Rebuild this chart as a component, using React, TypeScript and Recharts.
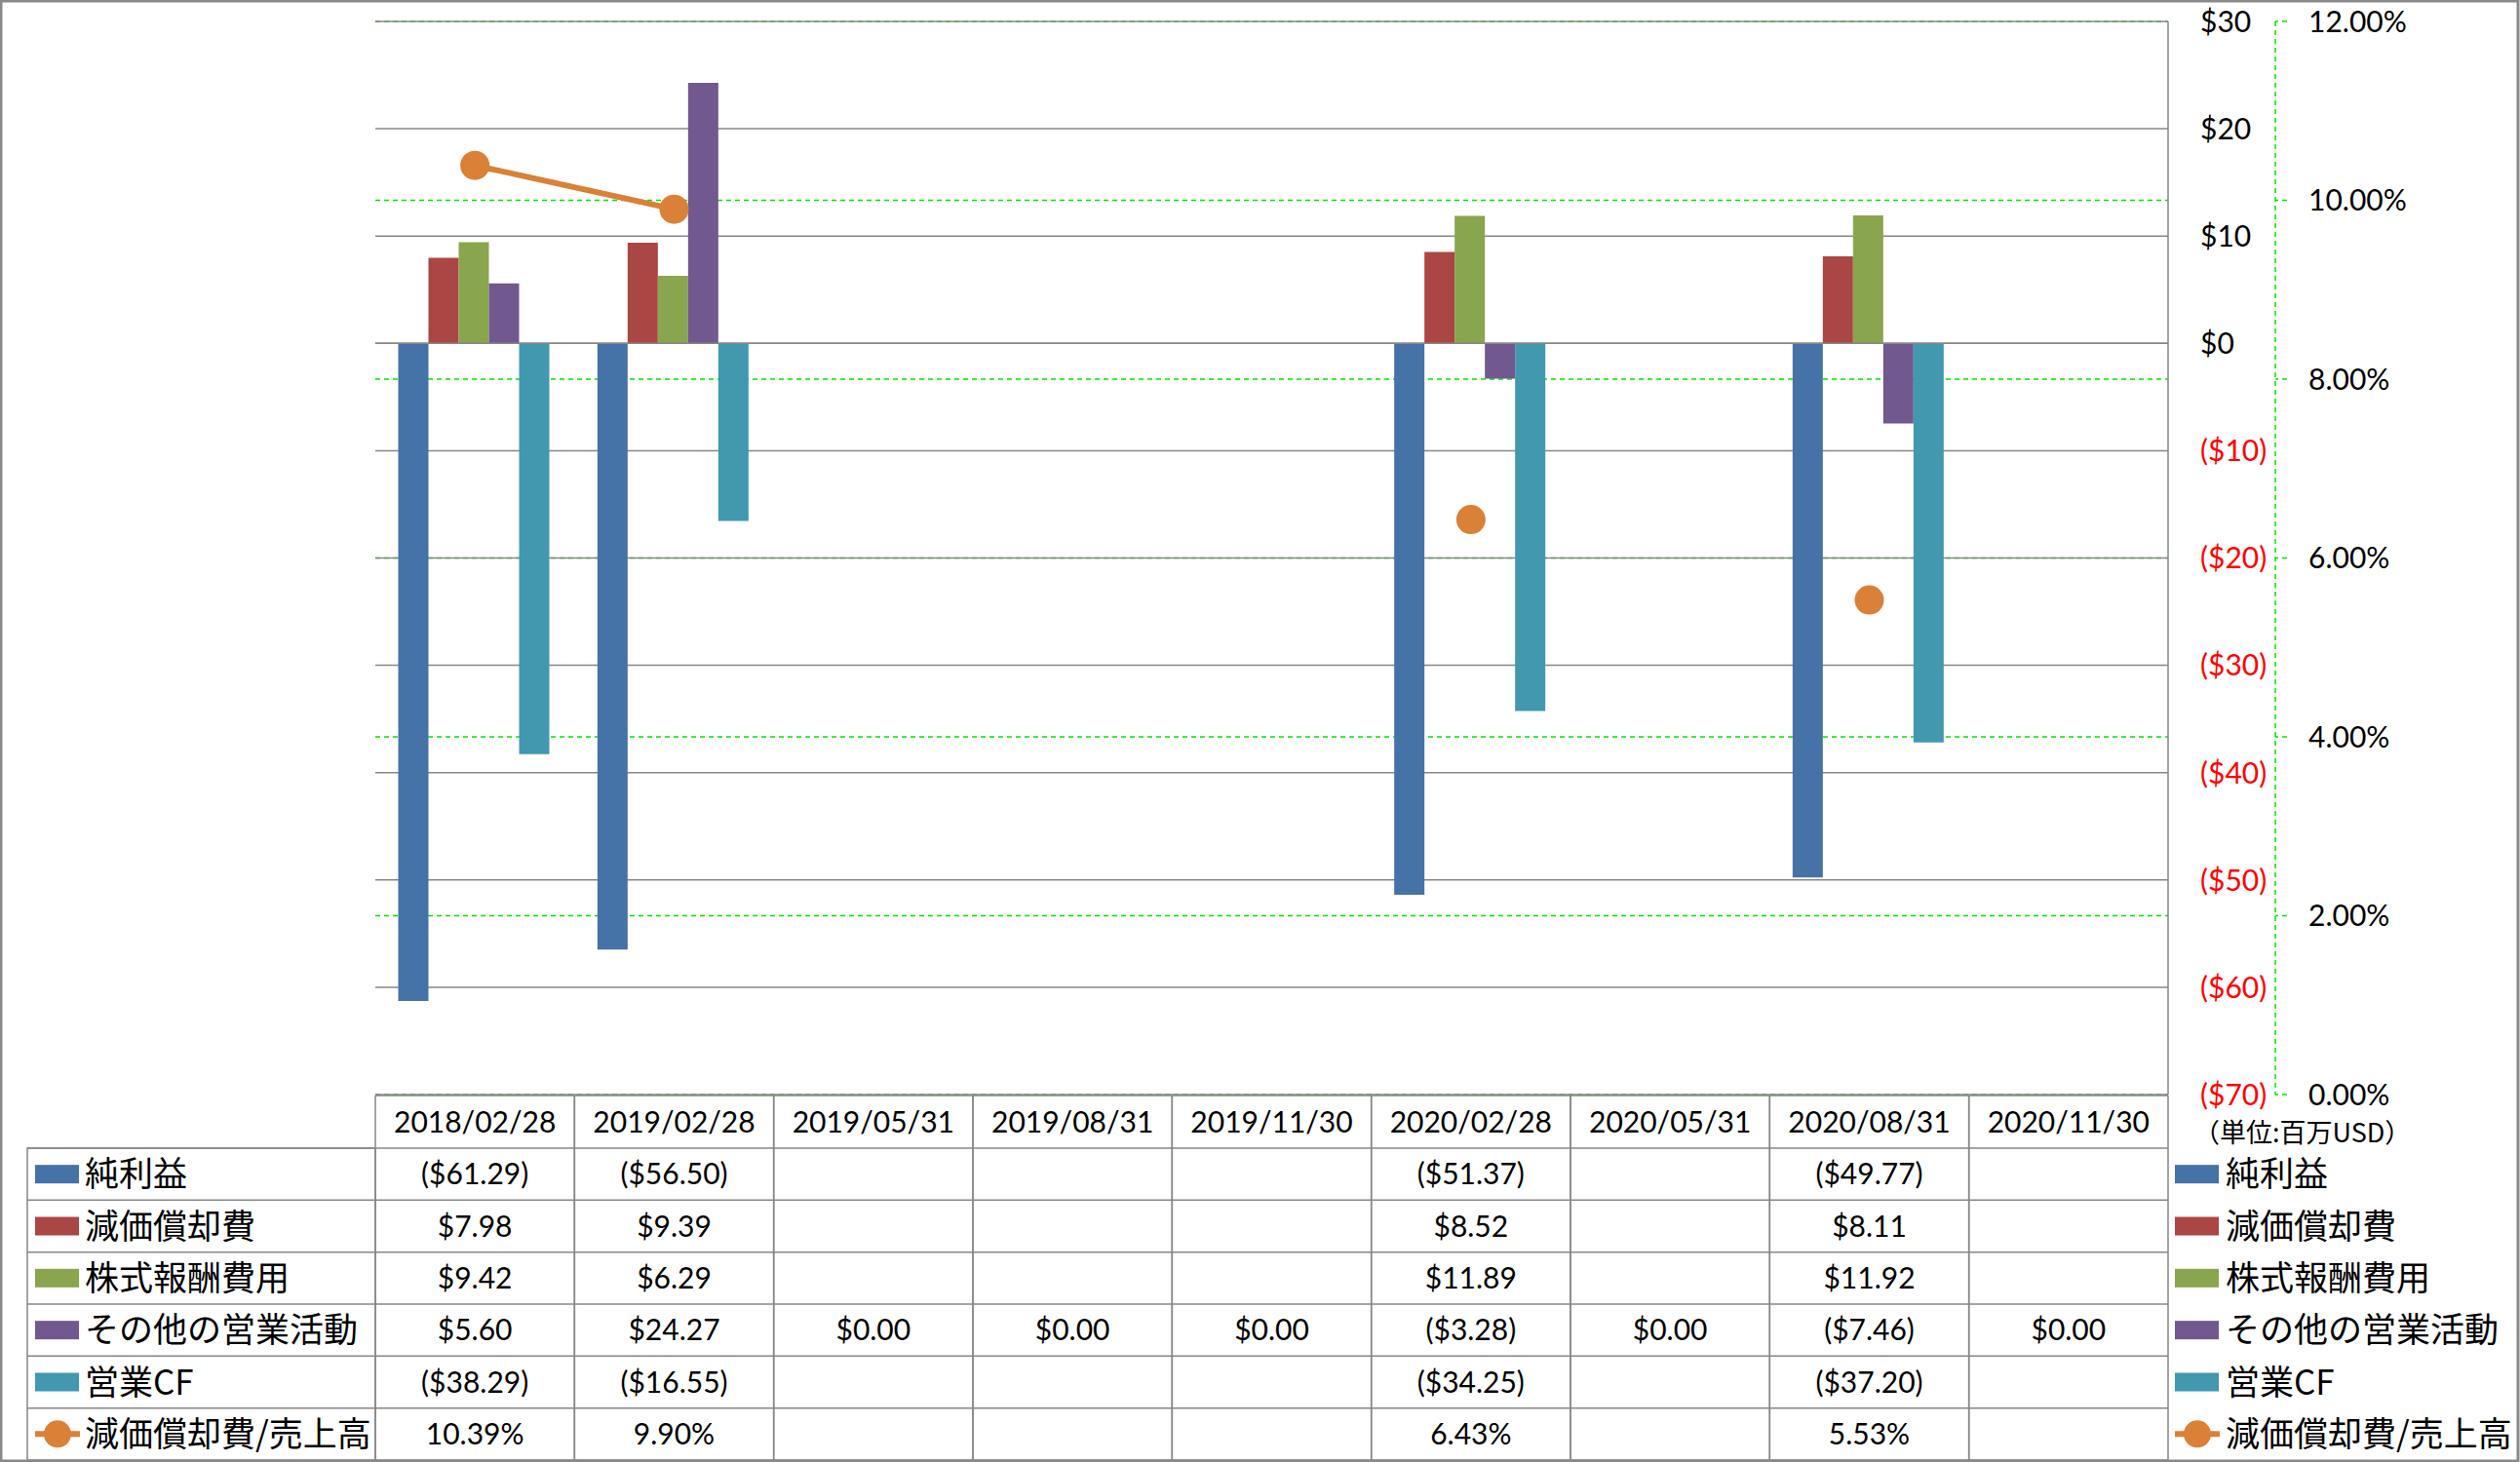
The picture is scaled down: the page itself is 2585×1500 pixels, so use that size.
import React from 'react';
import { ComposedChart, Bar, Line, XAxis, YAxis, CartesianGrid, ReferenceLine } from 'recharts';

const categories = ['2018/02/28', '2019/02/28', '2019/05/31', '2019/08/31', '2019/11/30', '2020/02/28', '2020/05/31', '2020/08/31', '2020/11/30'];
const netIncome = [-61.29, -56.5, null, null, null, -51.37, null, -49.77, null];
const depreciation = [7.98, 9.39, null, null, null, 8.52, null, 8.11, null];
const stockComp = [9.42, 6.29, null, null, null, 11.89, null, 11.92, null];
const otherOps = [5.6, 24.27, 0, 0, 0, -3.28, 0, -7.46, 0];
const operatingCF = [-38.29, -16.55, null, null, null, -34.25, null, -37.2, null];
const depRatio = [10.39, 9.9, null, null, null, 6.43, null, 5.53, null];

const usdTicks = [-70, -60, -50, -40, -30, -20, -10, 0, 10, 20, 30];
const pctTicks = [0, 2, 4, 6, 8, 10, 12];

const seriesNames = ['純利益', '減価償却費', '株式報酬費用', 'その他の営業活動', '営業CF', '減価償却費/売上高'];
const seriesColors = ['#4572A7', '#AA4643', '#89A54E', '#71588F', '#4198AF', '#DA8137'];

const data = categories.map((date, i) => ({
  date,
  netIncome: netIncome[i],
  depreciation: depreciation[i],
  stockComp: stockComp[i],
  otherOps: otherOps[i],
  operatingCF: operatingCF[i],
  depRatio: depRatio[i],
}));

// layout of the excel-like sheet
const W = 2585;
const H = 1500;
const PLOT_LEFT = 385;
const PLOT_RIGHT = 2224;
const PLOT_TOP = 22;
const PLOT_BOTTOM = 1123;
const COL_W = (PLOT_RIGHT - PLOT_LEFT) / categories.length;
const TABLE_TOP = 1124;
const HEADER_BOTTOM = 1178;
const TABLE_BOTTOM = 1498;
const ROW_H = (TABLE_BOTTOM - HEADER_BOTTOM) / 6;
const GRID = '#878787';
const LATIN = 'Lato, "Noto Sans", sans-serif';
const CJK = '"Noto Sans CJK JP", sans-serif';

const money = (v: number | null) => {
  if (v === null) return '';
  const s = '$' + Math.abs(v).toFixed(2);
  return v < 0 ? `(${s})` : s;
};
const pct = (v: number | null) => (v === null ? '' : v.toFixed(2) + '%');

const tableRows = [
  { values: netIncome, fmt: money },
  { values: depreciation, fmt: money },
  { values: stockComp, fmt: money },
  { values: otherOps, fmt: money },
  { values: operatingCF, fmt: money },
  { values: depRatio, fmt: pct },
];

const UsdTick = (props: any) => {
  const { x, y, payload } = props;
  const v = payload.value;
  const label = v < 0 ? `($${Math.abs(v)})` : `$${v}`;
  return (
    <text x={x} y={y} dy="0.36em" textAnchor="start" fill={v < 0 ? '#FF0000' : '#000'} fontFamily={LATIN} fontSize={30}>
      {label}
    </text>
  );
};

const PctTick = (props: any) => {
  const { x, y, payload } = props;
  return (
    <text x={x} y={y} dy="0.36em" textAnchor="start" fill="#000" fontFamily={LATIN} fontSize={30}>
      {payload.value.toFixed(2)}%
    </text>
  );
};

// each x tick draws one column of the data table
const TableColumn = (props: any) => {
  const { x, payload } = props;
  const i = categories.indexOf(payload.value);
  const left = x - COL_W / 2;
  const right = x + COL_W / 2;
  return (
    <g>
      <line x1={left} x2={right} y1={TABLE_TOP} y2={TABLE_TOP} stroke={GRID} strokeWidth={1.5} />
      <line x1={left} x2={left} y1={TABLE_TOP} y2={TABLE_BOTTOM} stroke={GRID} strokeWidth={1.5} />
      <line x1={right} x2={right} y1={TABLE_TOP} y2={TABLE_BOTTOM} stroke={GRID} strokeWidth={1.5} />
      {[0, 1, 2, 3, 4, 5, 6].map((k) => (
        <line key={k} x1={left} x2={right} y1={HEADER_BOTTOM + k * ROW_H} y2={HEADER_BOTTOM + k * ROW_H} stroke={GRID} strokeWidth={1.5} />
      ))}
      <text x={x} y={(TABLE_TOP + HEADER_BOTTOM) / 2} dy="0.36em" textAnchor="middle" fill="#000" fontFamily={LATIN} fontSize={30}>
        {payload.value}
      </text>
      {tableRows.map((r, k) => (
        <text key={k} x={x} y={HEADER_BOTTOM + (k + 0.5) * ROW_H} dy="0.36em" textAnchor="middle" fill="#000" fontFamily={LATIN} fontSize={30}>
          {r.fmt(r.values[i])}
        </text>
      ))}
    </g>
  );
};

const LegendKey = ({ x, cy, idx }: { x: number; cy: number; idx: number }) => {
  if (idx === 5) {
    return (
      <g>
        <line x1={x} x2={x + 46} y1={cy} y2={cy} stroke={seriesColors[5]} strokeWidth={6} />
        <circle cx={x + 23} cy={cy} r={14} fill={seriesColors[5]} />
      </g>
    );
  }
  return <rect x={x} y={cy - 9.5} width={45} height={19} fill={seriesColors[idx]} />;
};

const App: React.FC = () => {
  return (
    <div style={{ position: 'relative', width: W, height: H, background: '#fff' }}>
      <style>{'body{margin:0}'}</style>
      <div style={{ position: 'absolute', left: 0, top: 0 }}>
        <ComposedChart
          width={W}
          height={H}
          data={data}
          margin={{ top: PLOT_TOP, left: PLOT_LEFT, right: W - PLOT_RIGHT - 110 - 200, bottom: 0 }}
          barCategoryGap="11.5%"
          barGap={0}
        >
          <CartesianGrid yAxisId="y2pct" vertical={false} stroke="#00E600" strokeDasharray="5 4" strokeWidth={1.5} />
          <CartesianGrid yAxisId="y1usd" vertical={false} stroke={GRID} strokeWidth={1.5} />
          <XAxis
            dataKey="date"
            height={H - PLOT_BOTTOM}
            interval={0}
            axisLine={false}
            tickLine={false}
            tickSize={0}
            tickMargin={1}
            tick={<TableColumn />}
          />
          <YAxis
            yAxisId="y1usd"
            orientation="right"
            width={110}
            domain={[-70, 30]}
            ticks={usdTicks}
            allowDataOverflow
            axisLine={{ stroke: GRID, strokeWidth: 1.5 }}
            tickLine={false}
            tickSize={0}
            tickMargin={33}
            tick={<UsdTick />}
          />
          <YAxis
            yAxisId="y2pct"
            orientation="right"
            width={200}
            domain={[0, 12]}
            ticks={pctTicks}
            allowDataOverflow
            axisLine={{ stroke: '#00E600', strokeDasharray: '5 4', strokeWidth: 1.5 }}
            tickLine={{ stroke: '#00E600', strokeDasharray: '5 4', strokeWidth: 1.5 }}
            tickSize={12}
            tickMargin={22}
            tick={<PctTick />}
          />
          <Bar yAxisId="y1usd" dataKey="netIncome" fill={seriesColors[0]} isAnimationActive={false} />
          <Bar yAxisId="y1usd" dataKey="depreciation" fill={seriesColors[1]} isAnimationActive={false} />
          <Bar yAxisId="y1usd" dataKey="stockComp" fill={seriesColors[2]} isAnimationActive={false} />
          <Bar yAxisId="y1usd" dataKey="otherOps" fill={seriesColors[3]} isAnimationActive={false} />
          <Bar yAxisId="y1usd" dataKey="operatingCF" fill={seriesColors[4]} isAnimationActive={false} />
          <ReferenceLine yAxisId="y1usd" y={0} stroke={GRID} strokeWidth={1.5} />
          <Line
            yAxisId="y2pct"
            dataKey="depRatio"
            stroke={seriesColors[5]}
            strokeWidth={6}
            dot={{ r: 15, fill: seriesColors[5], stroke: seriesColors[5], strokeWidth: 0 }}
            activeDot={false}
            connectNulls={false}
            isAnimationActive={false}
          />
        </ComposedChart>
      </div>
      <svg width={W} height={H} style={{ position: 'absolute', left: 0, top: 0, pointerEvents: 'none' }}>
        {/* legend column of the data table */}
        <rect x={28} y={HEADER_BOTTOM} width={PLOT_LEFT - 28} height={TABLE_BOTTOM - HEADER_BOTTOM} fill="none" stroke={GRID} strokeWidth={1.5} />
        {seriesNames.map((name, k) => {
          const cy = HEADER_BOTTOM + (k + 0.5) * ROW_H;
          return (
            <g key={k}>
              <line x1={28} x2={PLOT_LEFT} y1={HEADER_BOTTOM + k * ROW_H} y2={HEADER_BOTTOM + k * ROW_H} stroke={GRID} strokeWidth={1.5} />
              <LegendKey x={36} cy={cy} idx={k} />
              <text x={87} y={cy} dy="0.36em" fill="#000" fontFamily={CJK} fontSize={35}>
                {name}
              </text>
            </g>
          );
        })}
        {/* right legend */}
        <text x={2250} y={1162} dy="0.36em" fill="#000" fontFamily={CJK} fontSize={27}>
          （単位:百万USD）
        </text>
        {seriesNames.map((name, k) => {
          const cy = HEADER_BOTTOM + (k + 0.5) * ROW_H;
          return (
            <g key={k}>
              <LegendKey x={2231} cy={cy} idx={k} />
              <text x={2283} y={cy} dy="0.36em" fill="#000" fontFamily={CJK} fontSize={35}>
                {name}
              </text>
            </g>
          );
        })}
        <rect x={1} y={1} width={W - 3} height={H - 2} fill="none" stroke="#898989" strokeWidth={3} />
      </svg>
    </div>
  );
};

export default App;
